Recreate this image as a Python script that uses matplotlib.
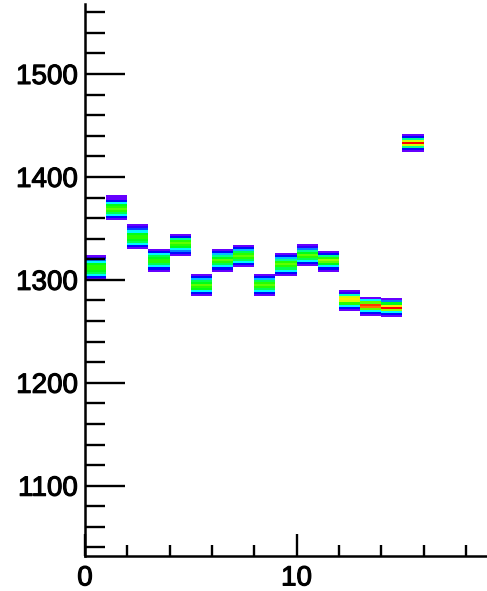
import numpy as np
import matplotlib
matplotlib.use('Agg')
import matplotlib.pyplot as plt
import matplotlib.patheffects as pe
from matplotlib.colors import LinearSegmentedColormap, ListedColormap, Normalize

# one column per x bin, counts are relative (max = 100), 2 units per y bin,
# listed from the bottom of the box to the top
X_BINS = [0, 1, 2, 3, 4, 5, 6, 7, 8, 9, 10, 11, 12, 13, 14, 15]
Y_LOW = [1300, 1358, 1330, 1308, 1323, 1284, 1308, 1312,
         1284, 1304, 1313, 1308, 1270, 1265, 1264, 1424]
Y_STEP = 2
COUNTS = [
    [4, 10, 30, 48, 54, 56, 56, 52, 34, 20, 8, 4],
    [4, 12, 30, 48, 56, 62, 56, 50, 30, 12, 4, 4],
    [4, 12, 30, 46, 54, 58, 56, 50, 34, 18, 6, 4],
    [4, 12, 32, 48, 56, 58, 54, 46, 30, 10, 4],
    [4, 10, 20, 34, 50, 58, 64, 56, 40, 12, 4],
    [4, 12, 32, 50, 56, 60, 54, 46, 28, 10, 4],
    [4, 12, 30, 48, 56, 60, 54, 44, 26, 10, 4],
    [4, 12, 30, 48, 56, 62, 56, 46, 28, 10, 4],
    [4, 12, 30, 48, 56, 60, 55, 46, 28, 12, 4],
    [4, 12, 30, 46, 58, 64, 58, 44, 26, 10, 4],
    [4, 12, 30, 48, 56, 60, 54, 44, 22, 8, 4],
    [4, 14, 34, 52, 64, 66, 58, 44, 14, 4],
    [4, 12, 34, 56, 74, 78, 74, 36, 8, 4],
    [4, 10, 30, 60, 86, 90, 64, 30, 4],
    [4, 12, 34, 68, 100, 78, 50, 20, 4],
    [4, 14, 40, 74, 100, 74, 40, 14, 4],
]

X_TICKS = [0, 10]
Y_TICKS = [1100, 1200, 1300, 1400, 1500]

N_LEVELS = 20  # discrete colour bands, like a contour palette

# violet -> blue -> cyan -> green -> yellow -> red
base = LinearSegmentedColormap.from_list('pretty', [
    (0.0, (0.4, 0.0, 1.0)),
    (0.094, (0.0, 0.0, 1.0)),
    (0.32, (0.0, 1.0, 1.0)),
    (0.547, (0.0, 1.0, 0.0)),
    (0.774, (1.0, 1.0, 0.0)),
    (1.0, (1.0, 0.0, 0.0)),
])
cmap = ListedColormap(base(np.linspace(0, 1, N_LEVELS)))
norm = Normalize(vmin=0, vmax=100)

plt.rcParams['font.family'] = ['Liberation Sans', 'DejaVu Sans']

fig = plt.figure(figsize=(4.87, 5.91), dpi=100)
ax = fig.add_axes([85 / 487, 35.3 / 591, 402 / 487, 551.7 / 591])

for x, ylow, counts in zip(X_BINS, Y_LOW, COUNTS):
    xe = [x, x + 1]
    ye = ylow + Y_STEP * np.arange(len(counts) + 1)
    z = np.array(counts, dtype=float).reshape(-1, 1)
    ax.pcolormesh(xe, ye, z, cmap=cmap, norm=norm, shading='flat')

ax.set_xlim(0, 19)
ax.set_ylim(1032, 1568)

for side in ['top', 'right']:
    ax.spines[side].set_visible(False)
for side in ['left', 'bottom']:
    ax.spines[side].set_linewidth(1.8)

ax.set_xticks(X_TICKS)
ax.set_xticks(np.arange(0, 20, 2), minor=True)
ax.set_yticks(Y_TICKS)
ax.set_yticks(np.arange(1040, 1570, 20), minor=True)

ax.tick_params(axis='y', which='major', direction='in', length=29, width=1.7,
               labelsize=20, pad=5)
ax.tick_params(axis='y', which='minor', direction='in', length=14.5, width=1.7)
ax.tick_params(axis='x', which='major', direction='in', length=16, width=1.7,
               labelsize=20, pad=7)
ax.tick_params(axis='x', which='minor', direction='in', length=8, width=1.7)

# labels in the reference are a bit heavier than plain regular
for lbl in ax.get_xticklabels() + ax.get_yticklabels():
    lbl.set_path_effects([pe.withStroke(linewidth=0.8, foreground='black')])

fig.savefig('out.png', dpi=100)
